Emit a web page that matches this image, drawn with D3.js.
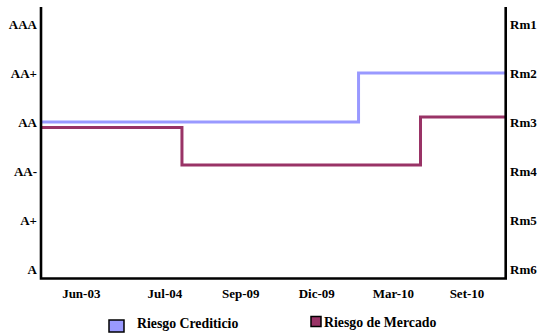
<!DOCTYPE html>
<html><head><meta charset="utf-8">
<script src="https://cdn.jsdelivr.net/npm/d3@7"></script>
<style>
html,body{margin:0;padding:0;background:#fff;}
svg{display:block;}
</style></head>
<body>
<script>
// ---- data ----
const categories = ["Jun-03","Jul-04","Sep-09","Dic-09","Mar-10","Set-10"];
const categoryPos = [0.52, 1.60, 2.58, 3.56, 4.55, 5.50];   // position on period axis
const leftLabels = ["A","A+","AA-","AA","AA+","AAA"];          // value 0..5
const rightLabels = ["Rm6","Rm5","Rm4","Rm3","Rm2","Rm1"];    // value 0..5
// step series: period where level starts, level value
const creditX = [0, 4.10];
const creditV = [3.0, 4.0];
const marketX = [0, 1.82, 4.90];
const marketV = [2.89, 2.12, 3.10];
const periodMax = 6;

const W = 539, H = 334;
const L = 41, R = 505.7, T = 7, B = 278.5;
const svg = d3.select("body").append("svg").attr("width", W).attr("height", H)
  .attr("font-family", "'Liberation Serif', 'Times New Roman', Times, 'DejaVu Serif', serif")
  .attr("font-weight", "bold").attr("font-size", 13);

const x = d3.scaleLinear().domain([0, periodMax]).range([L, R]);
const y = d3.scaleLinear().domain([0, 5]).range([269, 24]);

function stepData(xs, vs){
  const pts = xs.map((d,i)=>({x:d, v:vs[i]}));
  pts.push({x:periodMax, v:vs[vs.length-1]});
  return pts;
}
const line = d3.line().x(d=>x(d.x)).y(d=>y(d.v)).curve(d3.curveStepAfter);

svg.append("path").datum(stepData(creditX, creditV)).attr("d", line)
  .attr("fill","none").attr("stroke","#9999ff").attr("stroke-width",3);
svg.append("path").datum(stepData(marketX, marketV)).attr("d", line)
  .attr("fill","none").attr("stroke","#993366").attr("stroke-width",3);

// axes frame
svg.append("path").attr("d", `M${L},${T} V${B} H${R} V${T}`)
  .attr("fill","none").attr("stroke","#000").attr("stroke-width",2.6);

// left labels
svg.selectAll(".ll").data(leftLabels).enter().append("text")
  .attr("x", 37).attr("y",(d,i)=>y(i)).attr("dy","0.35em").attr("text-anchor","end").text(d=>d);
// right labels
svg.selectAll(".rl").data(rightLabels).enter().append("text")
  .attr("x", 510).attr("y",(d,i)=>y(i)).attr("dy","0.35em").attr("text-anchor","start").text(d=>d);
// x labels
svg.selectAll(".xl").data(categories).enter().append("text")
  .attr("x",(d,i)=>x(categoryPos[i])).attr("y",297.5).attr("text-anchor","middle").text(d=>d);

// legend
const legend = [
  {name:"Riesgo Crediticio", color:"#9999ff", sx:109, sy:320, sw:15, sh:12, tx:137, ty:328},
  {name:"Riesgo de Mercado", color:"#993366", sx:311, sy:316.5, sw:10, sh:10, tx:324, ty:326.5}
];
legend.forEach(l=>{
  svg.append("rect").attr("x",l.sx).attr("y",l.sy).attr("width",l.sw).attr("height",l.sh)
    .attr("fill",l.color).attr("stroke","#000").attr("stroke-width",1.5);
  svg.append("text").attr("x",l.tx).attr("y",l.ty).attr("font-size",13.8).text(l.name);
});
</script>
</body></html>
